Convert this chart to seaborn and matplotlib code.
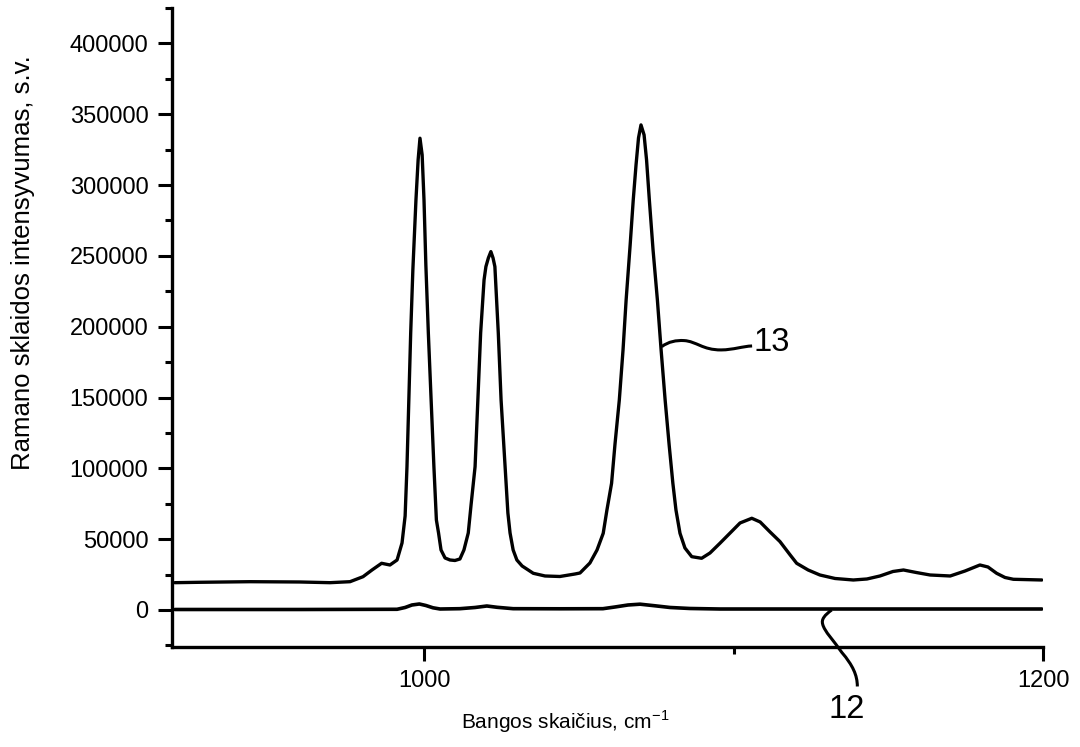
import matplotlib
matplotlib.use("Agg")
import matplotlib.pyplot as plt
import seaborn as sns
import pandas as pd
from matplotlib.path import Path
from matplotlib.patches import PathPatch
from matplotlib.ticker import MultipleLocator, FuncFormatter

# spectrum 13
wn_13 = [919.5, 927.6, 943.8, 959.9, 969.6, 976.1, 980.3, 983.2, 986.3, 989.0,
         991.3, 992.9, 993.9, 994.5, 995.7, 996.4, 997.4, 998.1, 998.7, 999.4,
         1000.0, 1000.6, 1001.4, 1002.3, 1003.2, 1004.0, 1004.7, 1005.5, 1006.8, 1008.4,
         1010.0, 1011.6, 1012.9, 1014.3, 1015.2, 1016.5, 1017.4, 1018.3, 1019.4, 1020.0,
         1020.8, 1021.6, 1022.3, 1022.9, 1024.0, 1024.9, 1026.2, 1027.1, 1027.8, 1028.8,
         1030.0, 1031.7, 1035.3, 1039.1, 1043.9, 1048.8, 1050.4, 1053.6, 1055.9, 1057.9,
         1059.1, 1060.6, 1061.7, 1063.1, 1064.3, 1065.3, 1066.6, 1067.6, 1068.5, 1069.3,
         1070.1, 1071.1, 1071.9, 1072.8, 1074.0, 1075.4, 1076.6, 1077.9, 1079.2, 1080.4,
         1081.4, 1082.7, 1084.3, 1086.5, 1089.7, 1092.4, 1095.6, 1098.9, 1102.1, 1105.9,
         1108.6, 1111.8, 1115.0, 1118.3, 1120.4, 1124.1, 1127.9, 1132.8, 1138.7, 1143.1,
         1147.3, 1151.5, 1154.9, 1159.0, 1163.5, 1170.0, 1174.8, 1179.6, 1182.2, 1185.0,
         1187.7, 1190.4, 1199.6]
int_13 = [19280, 19560, 19980, 19770, 19280, 19980, 23510, 28240, 32970, 31770,
          35300, 47310, 66370, 101180, 195590, 240070, 289500, 317750, 333070, 321280,
          289500, 243600, 195590, 148280, 101180, 63550, 54370, 42370, 36720, 35300,
          34950, 36010, 42370, 54370, 74140, 101180, 148280, 195590, 233010, 242410,
          248550, 253000, 248550, 242410, 195590, 148280, 101180, 68490, 54370, 42370,
          35300, 31070, 25910, 24010, 23650, 25420, 26130, 33190, 42370, 54160,
          70610, 89460, 117000, 148280, 183590, 218890, 257730, 289500, 314210, 333280,
          342460, 335400, 317750, 289500, 254200, 218890, 183590, 148280, 116510, 89460,
          70610, 54160, 43780, 37640, 36510, 40250, 47100, 54370, 61430, 64750,
          62140, 55080, 48300, 38840, 32970, 28240, 24710, 22240, 21180, 21890,
          24010, 27180, 28240, 26480, 24710, 24010, 27540, 31770, 30360, 25910,
          22950, 21680, 21180]

# spectrum 12 (nearly flat)
wn_12 = [919.5, 959.9, 989.0, 991.3, 993.9, 996.1, 998.5, 1000.6, 1002.9, 1005.2,
         1011.6, 1016.5, 1020.3, 1023.6, 1028.8, 1043.9, 1057.8, 1061.7, 1065.9, 1069.8,
         1074.6, 1079.5, 1085.9, 1095.6, 1121.5, 1153.8, 1199.6]
int_12 = [350, 350, 490, 500, 1770, 3530, 4240, 3180, 1550, 700,
          920, 1770, 2820, 1910, 920, 850, 920, 2120, 3530, 4100,
          2970, 1770, 1060, 700, 700, 700, 700]

x_label = "Bangos skai\u010dius, cm$^{\\mathregular{-1}}$"
y_label = "Ramano sklaidos intensyvumas, s.v."

sns.set_theme(style="ticks")
plt.rcParams["font.family"] = ["Liberation Sans", "DejaVu Sans"]
plt.rcParams["mathtext.fontset"] = "custom"
plt.rcParams["mathtext.rm"] = "Liberation Sans"

df13 = pd.DataFrame({"wn": wn_13, "I": int_13})
df12 = pd.DataFrame({"wn": wn_12, "I": int_12})

fig = plt.figure(figsize=(10.8, 7.47), dpi=100)
ax = fig.add_axes([0.1593, 0.1343, 0.8065, 0.855])

sns.lineplot(data=df13, x="wn", y="I", color="black", lw=2.4, sort=False,
             estimator=None, ax=ax)
sns.lineplot(data=df12, x="wn", y="I", color="black", lw=2.6, sort=False,
             estimator=None, ax=ax)

ax.set_xlim(918.6, 1200)
ax.set_ylim(-25900, 425000)
ax.xaxis.set_major_locator(MultipleLocator(200))
ax.xaxis.set_minor_locator(MultipleLocator(100))
ax.yaxis.set_major_locator(MultipleLocator(50000))
ax.yaxis.set_minor_locator(MultipleLocator(25000))
ax.yaxis.set_major_formatter(FuncFormatter(lambda v, p: f"{int(v)}"))

sns.despine(ax=ax)
for s in ("left", "bottom"):
    ax.spines[s].set_linewidth(2.4)
    ax.spines[s].set_color("black")
ax.tick_params(which="major", length=10, width=2.2, color="black",
               labelsize=17, labelcolor="black")
ax.tick_params(which="minor", length=5, width=2.2, color="black")
ax.tick_params(axis="y", which="major", pad=7)
ax.tick_params(axis="x", which="major", pad=7)

ax.set_xlabel(x_label, fontsize=15, va="center", color="black")
ax.xaxis.set_label_coords(0.451, -0.118)
ax.set_ylabel(y_label, fontsize=18.5, va="center", color="black")
ax.yaxis.set_label_coords(-0.171, 0.601)

# leader lines for the curve numbers
lead13 = Path([(1076.8, 185900), (1079, 189500), (1081.5, 190500), (1084, 190200),
               (1088, 189700), (1090, 183500), (1096, 183600),
               (1100, 183700), (1103, 186200), (1106, 186400)],
              [Path.MOVETO] + [Path.CURVE4] * 9)
lead12 = Path([(1131.7, 0), (1129.5, -3500), (1128.3, -6500), (1128.8, -10000),
               (1129.3, -15000), (1132.5, -22000), (1135, -30000),
               (1138.5, -39000), (1140, -46000), (1140, -54000)],
              [Path.MOVETO] + [Path.CURVE4] * 9)
for p in (lead13, lead12):
    ax.add_patch(PathPatch(p, fill=False, lw=2.2, ec="black", clip_on=False))

ax.text(1106.6, 188500, "13", fontsize=23.5, ha="left", va="center", color="black")
ax.text(1136.6, -69900, "12", fontsize=23.5, ha="center", va="center",
        color="black", clip_on=False)

fig.savefig("out.png", dpi=100)
